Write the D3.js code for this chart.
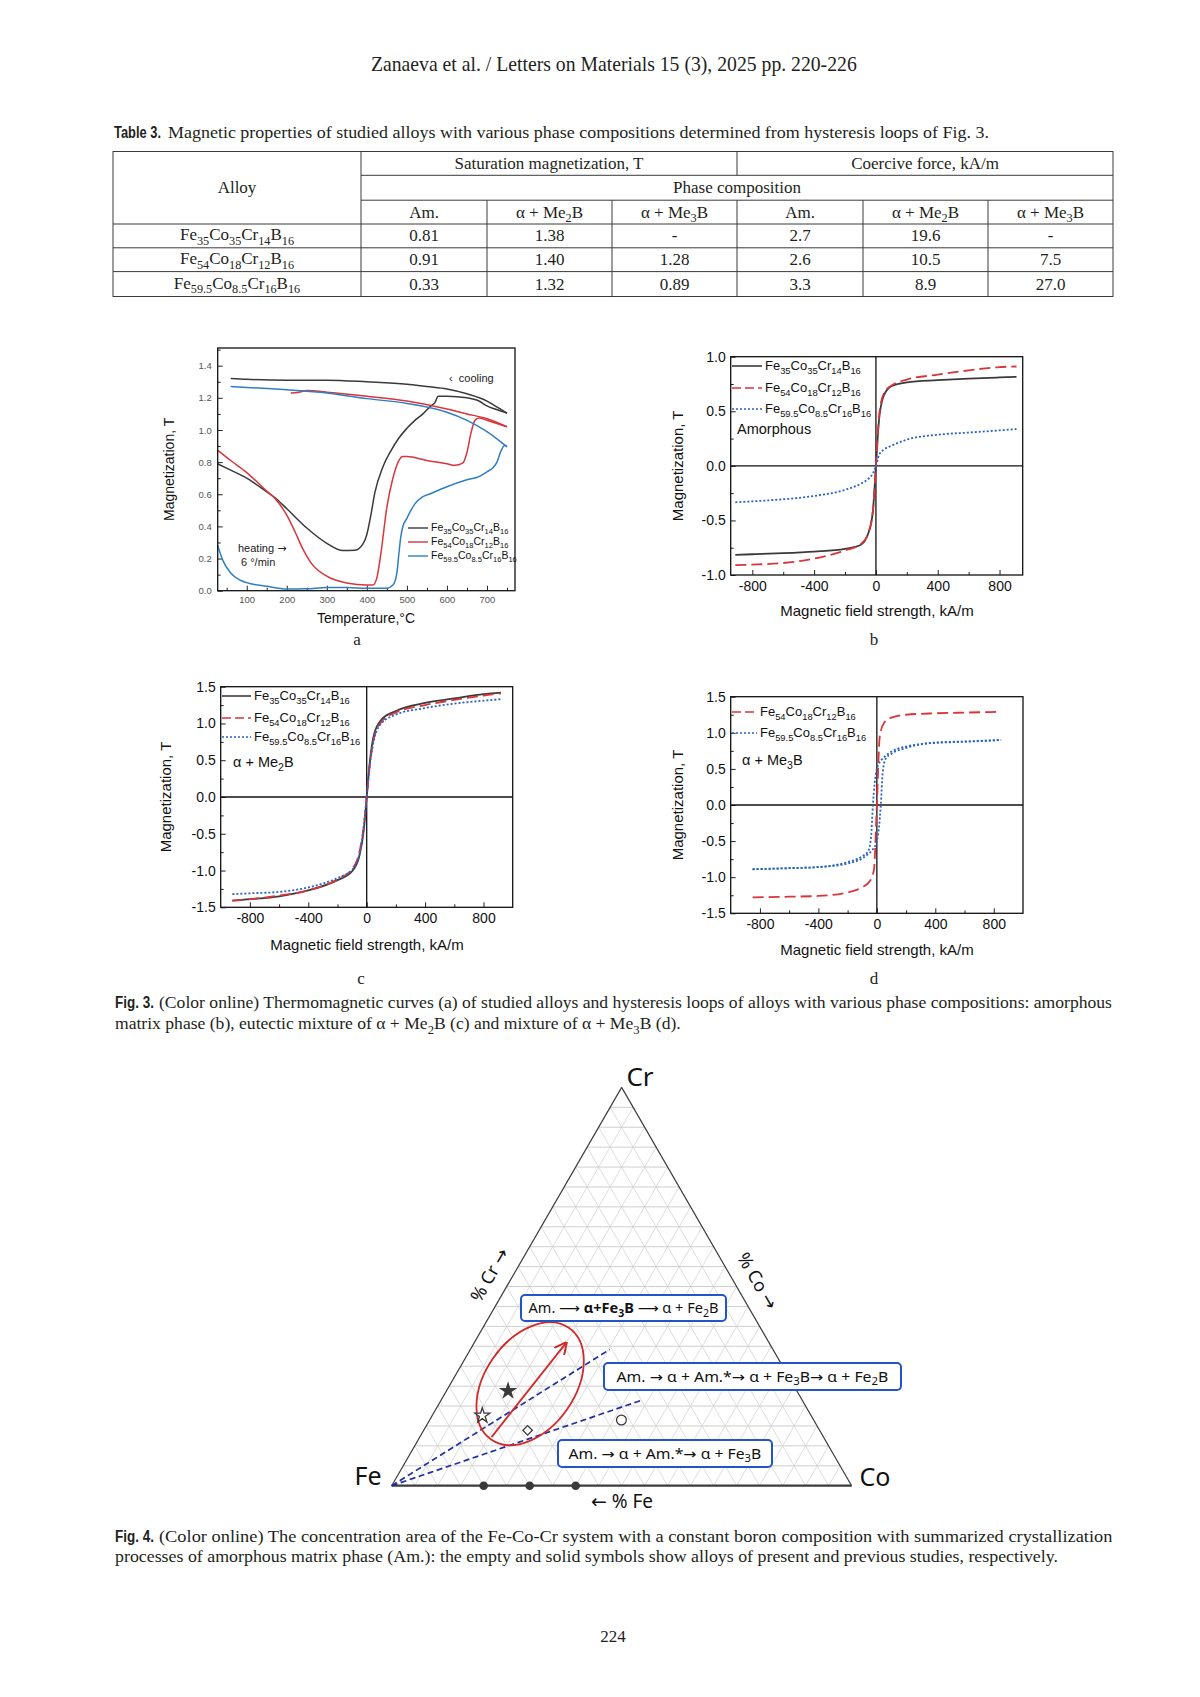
<!DOCTYPE html>
<html><head><meta charset="utf-8">
<script src="https://cdn.jsdelivr.net/npm/d3@7"></script>
<style>body{margin:0;background:#fff} svg{display:block} text{white-space:pre}</style>
</head><body>
<svg id="page" width="1200" height="1697"></svg>
<script>
// ---------------- DATA ----------------
const headerText = "Zanaeva et al. / Letters on Materials 15 (3), 2025 pp. 220-226";
const pageNumber = "224";

// Table 3
const tableAlloys = ["Fe_{35}Co_{35}Cr_{14}B_{16}", "Fe_{54}Co_{18}Cr_{12}B_{16}", "Fe_{59.5}Co_{8.5}Cr_{16}B_{16}"];
const tablePhases = ["Am.", "α + Me_{2}B", "α + Me_{3}B"];
const satMagnetization = [["0.81", "1.38", "-"], ["0.91", "1.40", "1.28"], ["0.33", "1.32", "0.89"]];
const coerciveForce = [["2.7", "19.6", "-"], ["2.6", "10.5", "7.5"], ["3.3", "8.9", "27.0"]];

// Fig 3a thermomagnetic curves [T (°C), M (T)]
const fe35Heating = [[27,0.79],[60,0.75],[100,0.70],[150,0.615],[170,0.58],[200,0.51],[250,0.39],[300,0.295],[340,0.25],[370,0.252],[390,0.29],[400,0.35],[410,0.47],[420,0.61],[440,0.77],[460,0.87],[480,0.95],[500,1.01],[520,1.06],[540,1.10],[560,1.15],[570,1.17],[578,1.21],[600,1.21],[650,1.20],[680,1.18],[700,1.15],[720,1.13],[750,1.105]];
const fe35Cooling = [[750,1.105],[720,1.15],[700,1.18],[650,1.225],[600,1.255],[550,1.27],[500,1.285],[400,1.30],[300,1.31],[200,1.31],[100,1.315],[60,1.32]];
const fe54Heating = [[27,0.875],[60,0.81],[100,0.735],[150,0.62],[170,0.575],[200,0.47],[220,0.37],[240,0.26],[260,0.175],[300,0.09],[350,0.048],[400,0.035],[415,0.035],[425,0.08],[435,0.23],[450,0.52],[465,0.70],[480,0.81],[490,0.835],[500,0.835],[550,0.81],[600,0.79],[620,0.78],[640,0.795],[650,0.86],[660,0.98],[670,1.06],[680,1.075],[700,1.06],[750,1.02]];
const fe54Cooling = [[750,1.02],[700,1.07],[650,1.10],[600,1.13],[500,1.18],[400,1.21],[300,1.235],[250,1.245],[230,1.235],[210,1.23]];
const fe595Heating = [[27,0.285],[40,0.19],[60,0.11],[80,0.07],[100,0.05],[150,0.027],[200,0.01],[250,0.012],[300,0.02],[350,0.02],[400,0.015],[450,0.015],[465,0.035],[475,0.11],[480,0.23],[485,0.34],[490,0.40],[500,0.45],[510,0.50],[520,0.54],[540,0.585],[560,0.605],[600,0.647],[650,0.69],[680,0.71],[700,0.74],[715,0.765],[725,0.80],[735,0.87],[745,0.905],[750,0.895]];
const fe595Cooling = [[750,0.895],[700,0.99],[650,1.06],[600,1.11],[500,1.165],[400,1.195],[300,1.23],[200,1.25],[100,1.265],[60,1.27]];
const tempTicks = [100,200,300,400,500,600,700];
const tempMagTicks = [0,0.2,0.4,0.6,0.8,1.0,1.2,1.4];

// Fig 3b amorphous hysteresis
const fieldB = [-910,-800,-600,-400,-200,-100,-50,-20,0,20,50,100,200,400,600,800,910];
const amFe35 = [-0.815,-0.81,-0.80,-0.785,-0.76,-0.725,-0.62,-0.42,0,0.42,0.64,0.73,0.765,0.785,0.80,0.81,0.815];
const amFe54 = [-0.91,-0.905,-0.89,-0.85,-0.775,-0.72,-0.62,-0.42,0,0.45,0.66,0.735,0.79,0.835,0.875,0.905,0.91];
const amFe595 = [-0.334,-0.325,-0.306,-0.276,-0.22,-0.165,-0.12,-0.07,0,0.1,0.147,0.184,0.24,0.285,0.305,0.325,0.337];

// Fig 3c alpha + Me2B
const fieldC = [-920,-800,-600,-400,-200,-100,-50,-20,0,20,50,100,200,400,600,800,920];
const me2Fe35 = [-1.41,-1.39,-1.35,-1.27,-1.13,-1.01,-0.80,-0.45,0,0.45,0.85,1.05,1.17,1.28,1.34,1.40,1.42];
const me2Fe54 = [-1.41,-1.39,-1.34,-1.27,-1.12,-0.98,-0.75,-0.40,0,0.42,0.80,1.02,1.15,1.25,1.32,1.38,1.41];
const me2Fe595 = [-1.32,-1.31,-1.29,-1.23,-1.10,-0.99,-0.78,-0.40,0,0.40,0.78,1.00,1.12,1.21,1.27,1.31,1.33];

// Fig 3d alpha + Me3B
const fieldD = [-850,-600,-400,-200,-100,-50,-20,0,20,50,100,200,400,600,850];
const me3Fe54 = [-1.28,-1.27,-1.26,-1.21,-1.14,-1.06,-0.90,0,0.95,1.14,1.21,1.25,1.27,1.28,1.29];
const fieldDUp = [-850,-600,-400,-200,-100,-60,-30,0,15,27,40,60,100,200,400,600,850];
const me3Fe595Up = [-0.89,-0.875,-0.86,-0.81,-0.74,-0.68,-0.62,-0.50,-0.30,0,0.45,0.64,0.71,0.79,0.865,0.88,0.90];
const fieldDDown = [-850,-600,-400,-200,-100,-60,-40,-27,-15,0,30,60,100,200,400,600,850];
const me3Fe595Down = [-0.89,-0.875,-0.86,-0.79,-0.71,-0.64,-0.45,0,0.30,0.50,0.62,0.68,0.74,0.81,0.86,0.875,0.90];

const fieldTicks = [-800,-400,0,400,800];
const fieldMinor = [-600,-200,200,600];

// Fig 4 ternary (fractions of Co and Cr; Fe = 1 - Co - Cr)
const previousDotsCo = [0.2, 0.3, 0.4];
const previousDotsCr = [0, 0, 0];
const previousStarCo = [0.134];
const previousStarCr = [0.238];
const presentSymbols = ["star", "diamond", "circle"];
const presentCo = [0.109, 0.226, 0.417];
const presentCr = [0.176, 0.139, 0.165];
const boundaryEndCo = [0.303, 0.435];
const boundaryEndCr = [0.342, 0.214];
const arrowCo = [0.156, 0.200];
const arrowCr = [0.122, 0.3585];
const regionCenterCo = 0.173, regionCenterCr = 0.256;
const processLabels = ["Am. ⟶ **α+Fe_{3}B** ⟶ α + Fe_{2}B", "Am. → α + Am.*→ α + Fe_{3}B→ α + Fe_{2}B", "Am. → α + Am.*→ α + Fe_{3}B"];

// captions
const tableCaption = "Magnetic properties of studied alloys with various phase compositions determined from hysteresis loops of Fig. 3.";
const fig3Caption = ["(Color online) Thermomagnetic curves (a) of studied alloys and hysteresis loops of alloys with various phase compositions: amorphous",
  "matrix phase (b), eutectic mixture of α + Me_{2}B (c) and mixture of α + Me_{3}B (d)."];
const fig4Caption = ["(Color online) The concentration area of the Fe-Co-Cr system with a constant boron composition with summarized crystallization",
  "processes of amorphous matrix phase (Am.): the empty and solid symbols show alloys of present and previous studies, respectively."];

// ---------------- DRAWING ----------------
const svg = d3.select("#page");
const SERIF = "'Liberation Serif','Times New Roman',serif";
const SANS = "'Liberation Sans',Arial,sans-serif";
const NOTO = "'Noto Sans','Open Sans',sans-serif";
const ARROWF = "'DejaVu Sans',sans-serif";
const INK = "#231f20";

function rich(sel, str, base) {
  const parts = str.split(/(_\{[^}]*\}|\*\*[^*]*\*\*)/).filter(s => s.length);
  let down = false;
  const sh = base * 0.28;
  const sub = (q, bold) => {
    const ts = sel.append("tspan").attr("font-size", base * 0.72).text(q);
    if (bold) ts.attr("font-weight", "bold");
    if (!down) { ts.attr("dy", sh); down = true; }
  };
  const plain = (q, bold) => {
    q.split(/([→←⟶])/).filter(s => s.length).forEach(r => {
      const ts = sel.append("tspan").attr("font-size", base).text(r);
      if (bold) ts.attr("font-weight", "bold");
      if (r === "→" || r === "←" || r === "⟶") ts.attr("font-family", ARROWF);
      if (down) { ts.attr("dy", -sh); down = false; }
    });
  };
  parts.forEach(p => {
    if (p.startsWith("_{")) sub(p.slice(2, -1), false);
    else if (p.startsWith("**")) {
      p.slice(2, -2).split(/(_\{[^}]*\})/).filter(s => s.length).forEach(q => {
        if (q.startsWith("_{")) sub(q.slice(2, -1), true); else plain(q, true);
      });
    } else plain(p, false);
  });
  return sel;
}

// squeeze a text horizontally to a target width with a real transform (keeps its box honest)
function fitWidth(sel, x, y, target) {
  const natural = sel.node().getComputedTextLength();
  const k = natural > 0 ? target / natural : 1;
  sel.attr("x", 0).attr("y", 0).attr("transform", `translate(${x},${y}) scale(${k},1)`);
  return sel;
}

// Header
fitWidth(svg.append("text").attr("font-family", SERIF).attr("font-size", 20).attr("fill", INK).text(headerText), 371, 71, 486);

function labelLine(x0, y, bold, boldW, str, x1, w, fs) {
  fitWidth(svg.append("text").attr("font-family", SANS).attr("font-weight", "bold")
    .attr("font-size", fs + 0.5).attr("fill", INK).text(bold), x0, y, boldW);
  fitWidth(rich(svg.append("text").attr("font-family", SERIF).attr("fill", INK), str, fs), x1, y, w);
}

labelLine(114, 138, "Table 3.", 47, tableCaption, 168, 821, 16.5);

// Table
(function () {
  const colX = [113, 361, 487, 612, 737, 863, 988, 1113];
  const rowY = [151.5, 175.3, 200.2, 224, 247.8, 271.6, 296.5];
  const g = svg.append("g").attr("stroke", "#3a3a3a").attr("stroke-width", 1);
  g.append("rect").attr("x", colX[0]).attr("y", rowY[0]).attr("width", colX[7] - colX[0]).attr("height", rowY[6] - rowY[0]).attr("fill", "none");
  [[colX[1], rowY[1]], [colX[1], rowY[2]], [colX[0], rowY[3]], [colX[0], rowY[4]], [colX[0], rowY[5]]].forEach(([x0, y]) =>
    g.append("line").attr("x1", x0).attr("x2", colX[7]).attr("y1", y).attr("y2", y));
  g.append("line").attr("x1", colX[1]).attr("x2", colX[1]).attr("y1", rowY[0]).attr("y2", rowY[6]);
  g.append("line").attr("x1", colX[4]).attr("x2", colX[4]).attr("y1", rowY[0]).attr("y2", rowY[1]);
  [2, 3, 4, 5, 6].forEach(i => g.append("line").attr("x1", colX[i]).attr("x2", colX[i]).attr("y1", rowY[2]).attr("y2", rowY[6]));
  const fs = 17;
  const cell = (x, y, s) => rich(svg.append("text").attr("x", x).attr("y", y + 5.5).attr("text-anchor", "middle")
    .attr("font-family", SERIF).attr("fill", INK), s, fs);
  cell((colX[0] + colX[1]) / 2, (rowY[0] + rowY[3]) / 2, "Alloy");
  cell((colX[1] + colX[4]) / 2, (rowY[0] + rowY[1]) / 2, "Saturation magnetization, T");
  cell((colX[4] + colX[7]) / 2, (rowY[0] + rowY[1]) / 2, "Coercive force, kA/m");
  cell((colX[1] + colX[7]) / 2, (rowY[1] + rowY[2]) / 2, "Phase composition");
  [...tablePhases, ...tablePhases].forEach((p, i) => cell((colX[i + 1] + colX[i + 2]) / 2, (rowY[2] + rowY[3]) / 2, p));
  tableAlloys.forEach((a, r) => {
    const yc = (rowY[3 + r] + rowY[4 + r]) / 2;
    cell((colX[0] + colX[1]) / 2, yc - 1, a);
    const vals = [...satMagnetization[r], ...coerciveForce[r]];
    vals.forEach((v, i) => cell((colX[i + 1] + colX[i + 2]) / 2, yc, v));
  });
})();

// ---------- generic panel ----------
function panel(cfg) {
  const { L, R, T, B } = cfg.box;
  const x = d3.scaleLinear().domain(cfg.xDom).range([L, R]);
  const y = d3.scaleLinear().domain(cfg.yDom).range([B, T]);
  const g = svg.append("g");
  const styleAxis = s => {
    s.attr("font-family", SANS).attr("font-size", cfg.tickFs);
    s.selectAll("text").attr("fill", cfg.tickColor);
    s.selectAll("line").attr("stroke", "#222");
    s.select(".domain").remove();
  };
  if (cfg.xMinor) g.append("g").attr("transform", `translate(0,${B})`).call(d3.axisBottom(x).tickValues(cfg.xMinor).tickSize(-3).tickFormat("")).call(styleAxis);
  if (cfg.yMinor) g.append("g").attr("transform", `translate(${L},0)`).call(d3.axisLeft(y).tickValues(cfg.yMinor).tickSize(-3).tickFormat("")).call(styleAxis);
  g.append("g").attr("transform", `translate(0,${B})`).call(d3.axisBottom(x).tickValues(cfg.xTicks).tickSize(-5).tickPadding(cfg.xPad).tickFormat(cfg.xFmt)).call(styleAxis);
  g.append("g").attr("transform", `translate(${L},0)`).call(d3.axisLeft(y).tickValues(cfg.yTicks).tickSize(-5).tickPadding(cfg.yPad).tickFormat(cfg.yFmt)).call(styleAxis);
  if (cfg.zeroLines) {
    g.append("line").attr("x1", L).attr("x2", R).attr("y1", y(0)).attr("y2", y(0)).attr("stroke", "#111").attr("stroke-width", 1.3);
    g.append("line").attr("x1", x(0)).attr("x2", x(0)).attr("y1", T).attr("y2", B).attr("stroke", "#111").attr("stroke-width", 1.3);
  }
  const line = d3.line().x(d => x(d[0])).y(d => y(d[1])).curve(d3.curveMonotoneX);
  cfg.series.forEach(s => {
    g.append("path").datum(s.data).attr("d", line).attr("fill", "none")
      .attr("stroke", s.color).attr("stroke-width", s.width || 1.6)
      .attr("stroke-dasharray", s.dash || null).attr("stroke-linejoin", "round");
  });
  g.append("rect").attr("x", L).attr("y", T).attr("width", R - L).attr("height", B - T)
    .attr("fill", "none").attr("stroke", "#111").attr("stroke-width", 1.3);
  g.append("text").attr("transform", `translate(${cfg.yTitleX},${(T + B) / 2}) rotate(-90)`).attr("text-anchor", "middle")
    .attr("font-family", SANS).attr("font-size", cfg.titleFs).attr("fill", "#111").text("Magnetization, T");
  g.append("text").attr("x", cfg.xTitleX).attr("y", cfg.xTitleY).attr("text-anchor", "middle")
    .attr("font-family", SANS).attr("font-size", cfg.titleFs).attr("fill", "#111").text(cfg.xTitle);
  svg.append("text").attr("x", cfg.letter[1]).attr("y", cfg.letter[2]).attr("text-anchor", "middle")
    .attr("font-family", SERIF).attr("font-size", 17).attr("fill", INK).text(cfg.letter[0]);
  (cfg.legend || []).forEach(l => {
    g.append("line").attr("x1", l.x1).attr("x2", l.x2).attr("y1", l.y).attr("y2", l.y)
      .attr("stroke", l.color).attr("stroke-width", l.width || 1.6).attr("stroke-dasharray", l.dash || null);
    rich(g.append("text").attr("x", l.x2 + 3).attr("y", l.y + l.fs * 0.3).attr("font-family", SANS).attr("fill", "#111"), l.label, l.fs);
  });
  return { x, y, g };
}

const fmt1 = d => (d < 0 ? "-" : "") + Math.abs(d).toFixed(1);
const fmtInt = d => (d < 0 ? "-" : "") + Math.abs(d);
const zip = (xs, ys) => xs.map((v, i) => [v, ys[i]]);

const BLACK = "#3a3a3a", RED = "#d9353a", BLUE_A = "#2f7ec4", BLUE = "#2a63c4";

// Panel a
const pa = panel({
  box: { L: 217.7, R: 515, T: 348, B: 590.7 },
  xDom: [27.5, 770], yDom: [0, 1.51],
  xTicks: tempTicks, xMinor: tempTicks.map(t => t - 50).concat([750]),
  yTicks: tempMagTicks, yMinor: tempMagTicks.map(v => v + 0.1),
  xFmt: fmtInt, yFmt: fmt1, tickFs: 9.5, tickColor: "#555", xPad: 6, yPad: 6,
  titleFs: 14, yTitleX: 174, xTitleX: 366, xTitleY: 623, xTitle: "Temperature,°C",
  letter: ["a", 357, 645],
  series: [
    { data: fe35Heating, color: BLACK, width: 1.5 }, { data: fe35Cooling, color: BLACK, width: 1.5 },
    { data: fe54Heating, color: RED, width: 1.5 }, { data: fe54Cooling, color: RED, width: 1.5 },
    { data: fe595Heating, color: BLUE_A, width: 1.5 }, { data: fe595Cooling, color: BLUE_A, width: 1.5 }
  ],
  legend: [
    { x1: 408, x2: 428, y: 528, color: BLACK, label: "Fe_{35}Co_{35}Cr_{14}B_{16}", fs: 10.5, width: 1.4 },
    { x1: 408, x2: 428, y: 542, color: RED, label: "Fe_{54}Co_{18}Cr_{12}B_{16}", fs: 10.5, width: 1.4 },
    { x1: 408, x2: 428, y: 556, color: BLUE_A, label: "Fe_{59.5}Co_{8.5}Cr_{16}B_{16}", fs: 10.5, width: 1.4 }
  ]
});
rich(pa.g.append("text").attr("x", 238).attr("y", 552).attr("font-family", SANS).attr("fill", "#222"), "heating →", 11);
pa.g.append("text").attr("x", 241).attr("y", 566).attr("font-family", SANS).attr("font-size", 11).attr("fill", "#222").text("6 °/min");
pa.g.append("text").attr("x", 449).attr("y", 382).attr("font-family", SANS).attr("font-size", 11).attr("fill", "#222").text("‹  cooling");

// Panel b
const pb = panel({
  box: { L: 730.7, R: 1022.7, T: 356.7, B: 575 },
  xDom: [-940, 950], yDom: [-1, 1],
  xTicks: fieldTicks, xMinor: fieldMinor,
  yTicks: [-1, -0.5, 0, 0.5, 1], yMinor: [-0.75, -0.25, 0.25, 0.75],
  xFmt: fmtInt, yFmt: fmt1, tickFs: 14, tickColor: "#111", xPad: 6, yPad: 5,
  titleFs: 15, yTitleX: 683, xTitleX: 877, xTitleY: 616, xTitle: "Magnetic field strength, kA/m",
  letter: ["b", 874, 645], zeroLines: true,
  series: [
    { data: zip(fieldB, amFe35), color: BLACK, width: 1.8 },
    { data: zip(fieldB, amFe54), color: RED, width: 1.8, dash: "11,5" },
    { data: zip(fieldB, amFe595), color: BLUE, width: 1.8, dash: "2,2" }
  ],
  legend: [
    { x1: 732, x2: 762, y: 366, color: BLACK, label: "Fe_{35}Co_{35}Cr_{14}B_{16}", fs: 13, width: 1.6 },
    { x1: 732, x2: 762, y: 388, color: RED, label: "Fe_{54}Co_{18}Cr_{12}B_{16}", fs: 13, width: 1.6, dash: "9,4" },
    { x1: 732, x2: 762, y: 409, color: BLUE, label: "Fe_{59.5}Co_{8.5}Cr_{16}B_{16}", fs: 13, width: 1.6, dash: "2,2" }
  ]
});
pb.g.append("text").attr("x", 737).attr("y", 434).attr("font-family", SANS).attr("font-size", 14.5).attr("fill", "#111").text("Amorphous");

// Panel c
const pc = panel({
  box: { L: 220.7, R: 512.7, T: 686.7, B: 907.3 },
  xDom: [-1000, 1000], yDom: [-1.5, 1.5],
  xTicks: fieldTicks, xMinor: fieldMinor,
  yTicks: [-1.5, -1, -0.5, 0, 0.5, 1, 1.5], yMinor: [-1.25, -0.75, -0.25, 0.25, 0.75, 1.25],
  xFmt: fmtInt, yFmt: fmt1, tickFs: 14, tickColor: "#111", xPad: 6, yPad: 5,
  titleFs: 15, yTitleX: 171, xTitleX: 367, xTitleY: 950, xTitle: "Magnetic field strength, kA/m",
  letter: ["c", 361, 984], zeroLines: true,
  series: [
    { data: zip(fieldC, me2Fe35), color: BLACK, width: 1.8 },
    { data: zip(fieldC, me2Fe54), color: RED, width: 1.8, dash: "11,5" },
    { data: zip(fieldC, me2Fe595), color: BLUE, width: 1.8, dash: "2,2" }
  ],
  legend: [
    { x1: 222, x2: 251, y: 696, color: BLACK, label: "Fe_{35}Co_{35}Cr_{14}B_{16}", fs: 13, width: 1.6 },
    { x1: 222, x2: 251, y: 718, color: RED, label: "Fe_{54}Co_{18}Cr_{12}B_{16}", fs: 13, width: 1.6, dash: "9,4" },
    { x1: 222, x2: 251, y: 737, color: BLUE, label: "Fe_{59.5}Co_{8.5}Cr_{16}B_{16}", fs: 13, width: 1.6, dash: "2,2" }
  ]
});
rich(pc.g.append("text").attr("x", 233).attr("y", 767).attr("font-family", SANS).attr("fill", "#111"), "α + Me_{2}B", 14.5);

// Panel d
const pd = panel({
  box: { L: 730.7, R: 1023, T: 696.7, B: 913.3 },
  xDom: [-1000, 1000], yDom: [-1.5, 1.5],
  xTicks: fieldTicks, xMinor: fieldMinor,
  yTicks: [-1.5, -1, -0.5, 0, 0.5, 1, 1.5], yMinor: [-1.25, -0.75, -0.25, 0.25, 0.75, 1.25],
  xFmt: fmtInt, yFmt: fmt1, tickFs: 14, tickColor: "#111", xPad: 6, yPad: 5,
  titleFs: 15, yTitleX: 683, xTitleX: 877, xTitleY: 955, xTitle: "Magnetic field strength, kA/m",
  letter: ["d", 874, 984], zeroLines: true,
  series: [
    { data: zip(fieldD, me3Fe54), color: RED, width: 1.8, dash: "11,5" },
    { data: zip(fieldDUp, me3Fe595Up), color: BLUE, width: 1.8, dash: "2,2" },
    { data: zip(fieldDDown, me3Fe595Down), color: BLUE, width: 1.8, dash: "2,2" }
  ],
  legend: [
    { x1: 732, x2: 757, y: 712, color: RED, label: "Fe_{54}Co_{18}Cr_{12}B_{16}", fs: 13, width: 1.6, dash: "9,4" },
    { x1: 732, x2: 757, y: 733, color: BLUE, label: "Fe_{59.5}Co_{8.5}Cr_{16}B_{16}", fs: 13, width: 1.6, dash: "2,2" }
  ]
});
rich(pd.g.append("text").attr("x", 742).attr("y", 765).attr("font-family", SANS).attr("fill", "#111"), "α + Me_{3}B", 14.5);

// captions
labelLine(115, 1008, "Fig. 3.", 39, fig3Caption[0], 159, 954, 16.5);
fitWidth(rich(svg.append("text").attr("font-family", SERIF).attr("fill", INK), fig3Caption[1], 16.5), 115, 1029, 566);
labelLine(115, 1542, "Fig. 4.", 39, fig4Caption[0], 159, 954, 16.5);
fitWidth(rich(svg.append("text").attr("font-family", SERIF).attr("fill", INK), fig4Caption[1], 16.5), 115, 1562, 944);

svg.append("text").attr("x", 613).attr("y", 1642).attr("text-anchor", "middle").attr("font-family", SERIF)
  .attr("font-size", 17).attr("fill", INK).text(pageNumber);

// ---------- Fig 4 ternary ----------
(function () {
  const tx = d3.scaleLinear().domain([0, 1]).range([391.7, 851.6]);
  const ty = d3.scaleLinear().domain([0, 1]).range([1485.7, 1087.4]);
  const P = (co, cr) => [tx(co + cr / 2), ty(cr)];
  const g = svg.append("g");
  const steps = d3.range(1, 20).map(i => i / 20);
  const seg = (a, b, color, w) => g.append("line").attr("x1", a[0]).attr("y1", a[1]).attr("x2", b[0]).attr("y2", b[1])
    .attr("stroke", color).attr("stroke-width", w);
  steps.forEach(k => {
    seg(P(0, k), P(1 - k, k), "#c8c8c8", 0.9);
    seg(P(k, 0), P(k, 1 - k), "#d4d4d4", 0.8);
    seg(P(1 - k, 0), P(0, 1 - k), "#d4d4d4", 0.8);
  });
  seg(P(0, 0), P(0, 1), "#3c3c3c", 1.2);
  seg(P(1, 0), P(0, 1), "#3c3c3c", 1.2);
  seg(P(0, 0), P(1, 0), "#3c3c3c", 2.2);

  boundaryEndCo.forEach((co, i) => {
    const a = P(0, 0), b = P(co, boundaryEndCr[i]);
    g.append("line").attr("x1", a[0]).attr("y1", a[1]).attr("x2", b[0]).attr("y2", b[1])
      .attr("stroke", "#1f2f9e").attr("stroke-width", 1.7).attr("stroke-dasharray", "6,3.5");
  });

  const c = P(regionCenterCo, regionCenterCr);
  g.append("ellipse").attr("cx", c[0]).attr("cy", c[1]).attr("rx", 68).attr("ry", 45)
    .attr("transform", `rotate(-55,${c[0]},${c[1]})`).attr("fill", "none").attr("stroke", "#d22a2a").attr("stroke-width", 1.8);
  svg.append("defs").append("marker").attr("id", "ah").attr("viewBox", "0 0 10 10").attr("refX", 9).attr("refY", 5)
    .attr("markerWidth", 7).attr("markerHeight", 7).attr("orient", "auto")
    .append("path").attr("d", "M0,0L10,5L0,10").attr("fill", "none").attr("stroke", "#d22a2a").attr("stroke-width", 1.6);
  const a0 = P(arrowCo[0], arrowCr[0]), a1 = P(arrowCo[1], arrowCr[1]);
  g.append("line").attr("x1", a0[0]).attr("y1", a0[1]).attr("x2", a1[0]).attr("y2", a1[1])
    .attr("stroke", "#d22a2a").attr("stroke-width", 1.8).attr("marker-end", "url(#ah)");

  const ink = "#3a3a3a";
  previousDotsCo.forEach((co, i) => {
    const p = P(co, previousDotsCr[i]);
    g.append("circle").attr("cx", p[0]).attr("cy", p[1]).attr("r", 4.3).attr("fill", ink);
  });
  previousStarCo.forEach((co, i) => {
    const p = P(co, previousStarCr[i]);
    g.append("path").attr("d", d3.symbol().type(d3.symbolStar).size(105)()).attr("transform", `translate(${p[0]},${p[1]})`).attr("fill", ink);
  });
  presentSymbols.forEach((s, i) => {
    const p = P(presentCo[i], presentCr[i]);
    let d, rot = 0;
    if (s === "star") d = d3.symbol().type(d3.symbolStar).size(70)();
    else if (s === "diamond") { d = d3.symbol().type(d3.symbolSquare).size(45)(); rot = 45; }
    else d = d3.symbol().type(d3.symbolCircle).size(75)();
    g.append("path").attr("d", d).attr("transform", `translate(${p[0]},${p[1]}) rotate(${rot})`)
      .attr("fill", "#fff").attr("stroke", ink).attr("stroke-width", 1.3);
  });

  const boxes = [[521, 1295, 205, 26, 190], [604, 1363, 297, 27, 272], [558, 1440, 214, 27, 193]];
  boxes.forEach((b, i) => {
    g.append("rect").attr("x", b[0]).attr("y", b[1]).attr("width", b[2]).attr("height", b[3]).attr("rx", 4)
      .attr("fill", "#fff").attr("stroke", "#2355c8").attr("stroke-width", 2);
    const t = rich(g.append("text").attr("font-family", NOTO).attr("fill", "#111"), processLabels[i], 14);
    fitWidth(t, b[0] + (b[2] - b[4]) / 2, b[1] + b[3] / 2 + 5, b[4]);
  });

  const lab = (x, y, s, fs, rot) => rich(g.append("text").attr("transform", `translate(${x},${y}) rotate(${rot || 0})`)
    .attr("text-anchor", "middle").attr("font-family", NOTO).attr("fill", "#111"), s, fs);
  lab(640, 1086, "Cr", 26);
  lab(368, 1485, "Fe", 25);
  lab(875, 1486, "Co", 25);
  lab(622, 1508, "← % Fe", 19);
  lab(495, 1278, "% Cr →", 18, -60);
  lab(752, 1284, "% Co →", 18, 60);
})();
</script>
</body></html>
